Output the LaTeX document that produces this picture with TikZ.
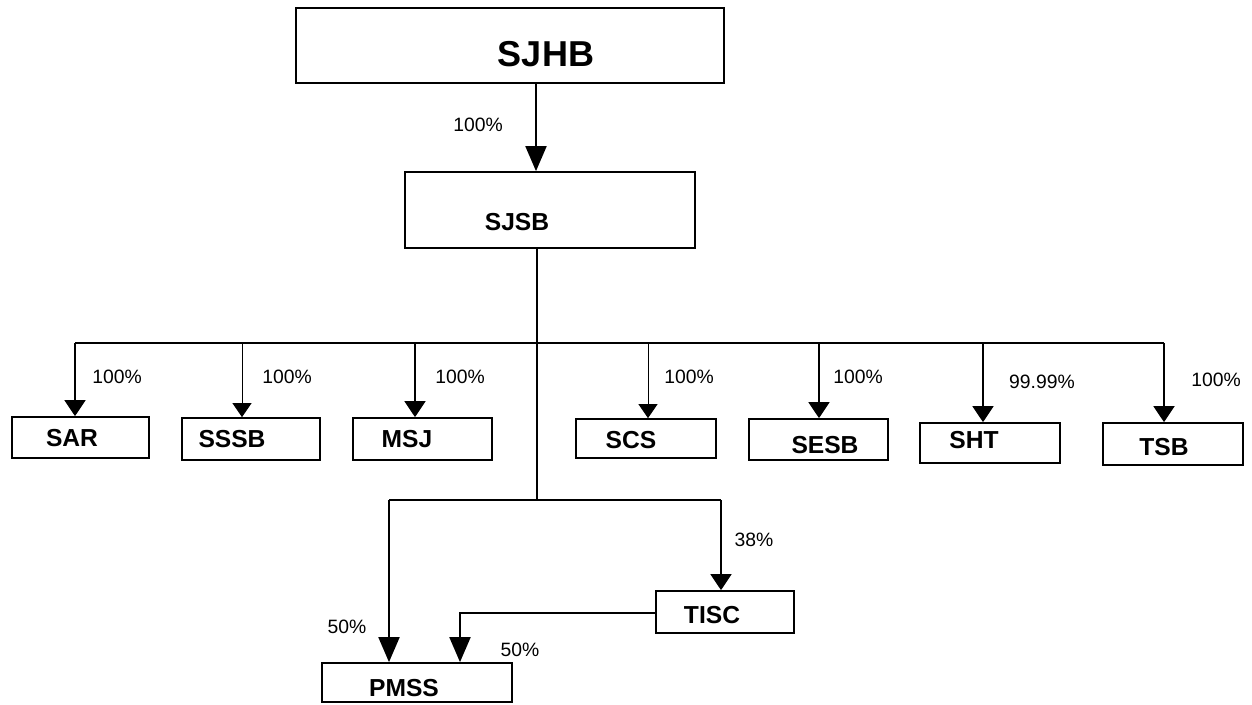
\documentclass[tikz,border=0pt]{standalone}
\usepackage{fontspec}
\setmainfont{Liberation Sans}
\usetikzlibrary{arrows.meta}

\begin{document}
\begin{tikzpicture}[x=0.02cm, y=-0.02cm,
  box/.style={draw, line width=1pt, inner sep=0pt},
  tag/.style={font=\bfseries\fontsize{14}{16}\selectfont, inner sep=0pt},
  pct/.style={font=\fontsize{11}{13}\selectfont, inner sep=0pt},
  link/.style={line width=1.1pt, -{Triangle[width=0.42cm,length=0.32cm]}},
  thinlink/.style={line width=0.5pt, -{Triangle[width=0.38cm,length=0.28cm]}},
  biglink/.style={line width=1.1pt, -{Triangle[width=0.42cm,length=0.5cm]}}]
\useasboundingbox (0,0) rectangle (1252,704);
% boxes
\node[box, minimum width=8.56cm, minimum height=1.5cm] (SJHB) at (510,45.5) {};
\node[box, minimum width=5.8cm, minimum height=1.52cm] (SJSB) at (550,210) {};
\node[box, minimum width=2.74cm, minimum height=0.82cm] (SAR) at (80.5,437.5) {};
\node[box, minimum width=2.76cm, minimum height=0.84cm] (SSSB) at (251,439) {};
\node[box, minimum width=2.78cm, minimum height=0.84cm] (MSJ) at (422.5,439) {};
\node[box, minimum width=2.8cm, minimum height=0.78cm] (SCS) at (646,438.5) {};
\node[box, minimum width=2.78cm, minimum height=0.82cm] (SESB) at (818.5,439.5) {};
\node[box, minimum width=2.8cm, minimum height=0.8cm] (SHT) at (990,443) {};
\node[box, minimum width=2.8cm, minimum height=0.84cm] (TSB) at (1173,444) {};
\node[box, minimum width=2.76cm, minimum height=0.84cm] (TISC) at (725,612) {};
\node[box, minimum width=3.8cm, minimum height=0.78cm] (PMSS) at (417,682.5) {};
% names
\node[tag, font=\bfseries\fontsize{20.5}{24}\selectfont] (SJHBt) at (546,54) {SJHB};
\node[tag] (SJSBt) at (517,222) {SJSB};
\node[tag] (SARt) at (72,438) {SAR};
\node[tag] (SSSBt) at (232,439) {SSSB};
\node[tag] (MSJt) at (407,439) {MSJ};
\node[tag] (SCSt) at (631,440) {SCS};
\node[tag] (SESBt) at (825,445) {SESB};
\node[tag] (SHTt) at (974,440) {SHT};
\node[tag] (TSBt) at (1164,447) {TSB};
\node[tag] (TISCt) at (712,615) {TISC};
\node[tag] (PMSSt) at (404,688) {PMSS};
% shares
\node[pct] (p0) at (478,125) {100\%};
\node[pct] (p1) at (117,377) {100\%};
\node[pct] (p2) at (287,377) {100\%};
\node[pct] (p3) at (460,377) {100\%};
\node[pct] (p4) at (689,377) {100\%};
\node[pct] (p5) at (858,377) {100\%};
\node[pct] (p6) at (1042,382) {99.99\%};
\node[pct] (p7) at (1216,380) {100\%};
\node[pct] (p8) at (754,540) {38\%};
\node[pct] (p9) at (347,627) {50\%};
\node[pct] (p10) at (520,650) {50\%};
% bus points
\coordinate (hub) at (537,343);
\coordinate (low) at (537,500);
\coordinate (b1) at (75,343);
\coordinate (b2) at (242,343);
\coordinate (b3) at (415,343);
\coordinate (b4) at (648,343);
\coordinate (b5) at (819,343);
\coordinate (b6) at (983,343);
\coordinate (b7) at (1164,343);
\coordinate (l1) at (389,500);
\coordinate (l2) at (721,500);
\coordinate (t1) at (460,613);
% lines
\draw[biglink] (SJHB.south -| 536,0) -- (SJSB.north -| 536,0);
\draw[line width=1pt] (SJSB.south -| hub) -- (low);
\draw[line width=1pt] (b1) -- (b7);
\draw[line width=1pt] (l1) -- (l2);
\draw[link] (b1) -- (b1 |- SAR.north);
\draw[thinlink] (b2) -- (b2 |- SSSB.north);
\draw[link] (b3) -- (b3 |- MSJ.north);
\draw[thinlink] (b4) -- (b4 |- SCS.north);
\draw[link] (b5) -- (b5 |- SESB.north);
\draw[link] (b6) -- (b6 |- SHT.north);
\draw[link] (b7) -- (b7 |- TSB.north);
\draw[biglink] (l1) -- (l1 |- PMSS.north);
\draw[link] (l2) -- (l2 |- TISC.north);
\draw[biglink] (TISC.west |- t1) -- (t1) -- (t1 |- PMSS.north);
\end{tikzpicture}
\end{document}
